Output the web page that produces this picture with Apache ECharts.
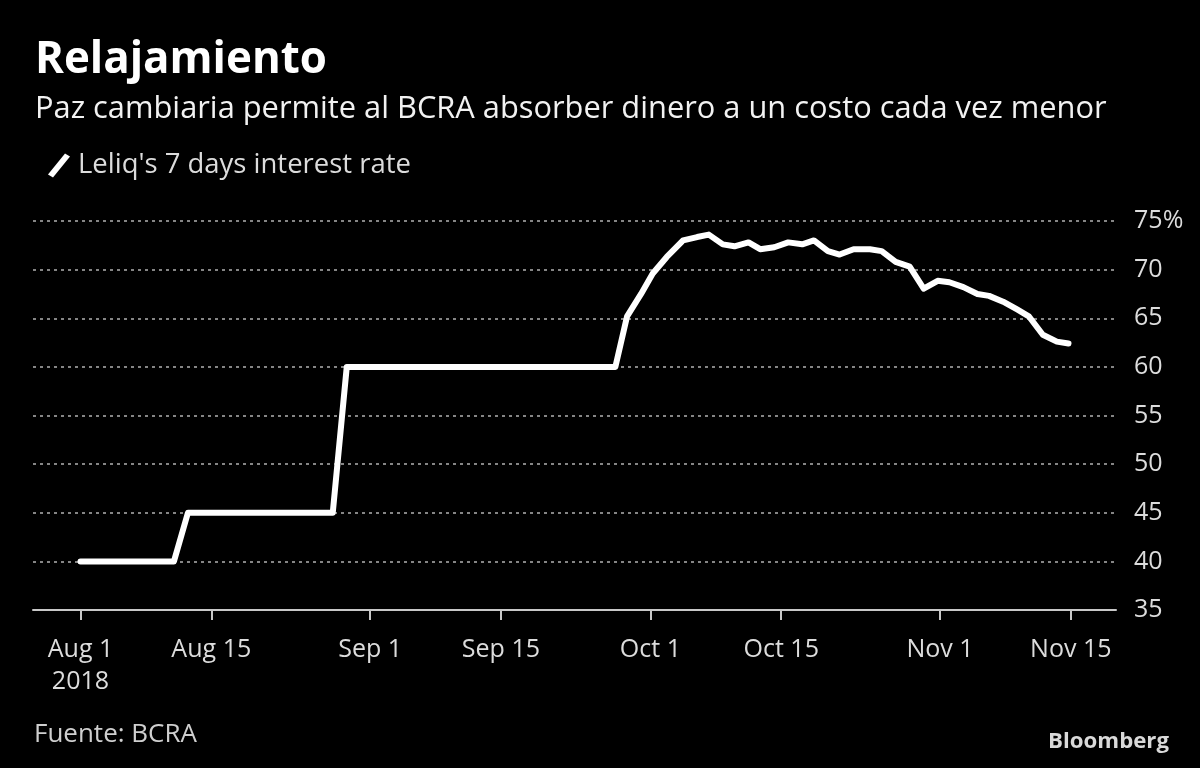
<!DOCTYPE html>
<html>
<head>
<meta charset="utf-8">
<script src="https://cdn.jsdelivr.net/npm/echarts@6/dist/echarts.min.js"></script>
<style>
  html, body { margin: 0; padding: 0; background: #000; }
  #chart { width: 1200px; height: 768px; }
</style>
</head>
<body>
<div id="chart"></div>
<script>
// ---- data ----
const titleText = 'Relajamiento';
const subtitleText = 'Paz cambiaria permite al BCRA absorber dinero a un costo cada vez menor';
const seriesName = "Leliq's 7 days interest rate";
const sourceText = 'Fuente: BCRA';
const brandText = 'Bloomberg';

const dates = [
  '2018-08-01', '2018-08-11', '2018-08-12 12', '2018-08-28', '2018-08-29 12',
  '2018-09-27 06', '2018-09-28 12', '2018-09-30', '2018-10-01 06', '2018-10-02 18',
  '2018-10-04 12', '2018-10-06', '2018-10-07 06', '2018-10-08 18', '2018-10-10',
  '2018-10-11 12', '2018-10-12 18', '2018-10-14 06', '2018-10-15 18', '2018-10-17 06',
  '2018-10-18 12', '2018-10-20', '2018-10-21 06', '2018-10-22 18', '2018-10-24 12',
  '2018-10-25 18', '2018-10-27 06', '2018-10-28 18', '2018-10-30 06', '2018-10-31 18',
  '2018-11-02', '2018-11-03 12', '2018-11-05', '2018-11-06 06', '2018-11-07 18',
  '2018-11-09 06', '2018-11-10 12', '2018-11-12', '2018-11-13 12', '2018-11-14 18'
];
const rates = [
  40, 40, 45, 45, 60,
  60, 65.2, 67.5, 69.6, 71.3,
  73.0, 73.35, 73.6, 72.6, 72.4,
  72.8, 72.1, 72.3, 72.8, 72.6,
  73.0, 71.9, 71.55, 72.1, 72.1,
  71.9, 70.8, 70.3, 68.05, 68.85,
  68.7, 68.2, 67.5, 67.3, 66.7,
  65.9, 65.2, 63.3, 62.6, 62.4
];
const xTickDates = ['2018-08-01', '2018-08-15', '2018-09-01', '2018-09-15',
                    '2018-10-01', '2018-10-15', '2018-11-01', '2018-11-15'];
const xMin = '2018-07-26 22';
const xMax = '2018-11-19 20';
const monthNames = ['Jan','Feb','Mar','Apr','May','Jun','Jul','Aug','Sep','Oct','Nov','Dec'];
const yMin = 35, yMax = 75, yStep = 5;

// ---- helpers ----
function ts(s) {
  const parts = s.split(' ');
  const d = parts[0].split('-').map(Number);
  const h = parts[1] ? Number(parts[1]) : 0;
  return new Date(d[0], d[1] - 1, d[2], h).getTime();
}
const FONT = '"Open Sans", "Noto Sans", sans-serif';
const mctx = document.createElement('canvas').getContext('2d');
function fit(text, weight, target) {
  mctx.font = weight + ' 100px ' + FONT;
  return 100 * target / mctx.measureText(text).width;
}

const tickValues = xTickDates.map(ts);
const firstTick = tickValues[0];
const seriesData = dates.map((d, i) => [ts(d), rates[i]]);

const titleSize = fit(titleText, 'bold', 292);
const subSize = fit(subtitleText, 'normal', 1072);
const legendSize = fit(seriesName, 'normal', 333);
const axisSize = fit('Aug 15', 'normal', 80);
const srcSize = fit(sourceText, 'normal', 163);
const brandSize = fit(brandText, 'bold', 121);

const chart = echarts.init(document.getElementById('chart'), null, { renderer: 'canvas' });
chart.setOption({
  backgroundColor: '#000',
  animation: false,
  title: [
    { text: titleText, left: 35, top: 38, padding: 0,
      textStyle: { color: '#fff', fontFamily: FONT, fontWeight: 'bold', fontSize: titleSize } },
    { text: subtitleText, left: 35, top: 94, padding: 0,
      textStyle: { color: '#f2f2f2', fontFamily: FONT, fontWeight: 'normal', fontSize: subSize } },
    { text: sourceText, left: 34, top: 722, padding: 0,
      textStyle: { color: '#cfcfcf', fontFamily: FONT, fontWeight: 'normal', fontSize: srcSize } },
    { text: brandText, right: 31, top: 731, padding: 0,
      textStyle: { color: '#d9d9d9', fontFamily: FONT, fontWeight: 'bold', fontSize: brandSize } }
  ],
  legend: {
    left: 43, top: 147,
    itemWidth: 22, itemHeight: 24,
    data: [{ name: seriesName, icon: 'path://M0,21 L17,0 L22,3 L5,24 Z' }],
    textStyle: { color: '#dcdcdc', fontFamily: FONT, fontSize: legendSize, padding: [0, 0, 0, 3] },
    itemStyle: { color: '#fff' }
  },
  grid: { left: 33, right: 84, top: 221, bottom: 158, containLabel: false },
  xAxis: {
    type: 'value',
    min: ts(xMin), max: ts(xMax),
    splitLine: { show: false },
    axisLine: { show: true, onZero: false, lineStyle: { color: '#c8c8c8', width: 2 } },
    axisTick: { show: true, length: 10, lineStyle: { color: '#c8c8c8', width: 2 }, customValues: tickValues },
    axisLabel: {
      customValues: tickValues,
      color: '#dcdcdc', fontFamily: FONT, fontSize: axisSize, margin: 24,
      lineHeight: 32,
      formatter: function (v) {
        const d = new Date(v);
        let s = monthNames[d.getMonth()] + ' ' + d.getDate();
        if (v === firstTick) s += '\n' + d.getFullYear();
        return s;
      }
    }
  },
  yAxis: {
    type: 'value', position: 'right',
    min: yMin, max: yMax, interval: yStep,
    axisLine: { show: false }, axisTick: { show: false },
    splitLine: { show: true, lineStyle: { color: '#858585', width: 2, type: [3, 4] } },
    axisLabel: {
      color: '#dcdcdc', fontFamily: FONT, fontSize: axisSize, margin: 18,
      formatter: function (v) { return v === yMax ? v + '%' : String(v); }
    }
  },
  series: [{
    name: seriesName, type: 'line', data: seriesData,
    showSymbol: false, symbol: 'none',
    lineStyle: { color: '#fff', width: 6, cap: 'round', join: 'round' },
    itemStyle: { color: '#fff' },
    z: 5
  }]
});
</script>
</body>
</html>
